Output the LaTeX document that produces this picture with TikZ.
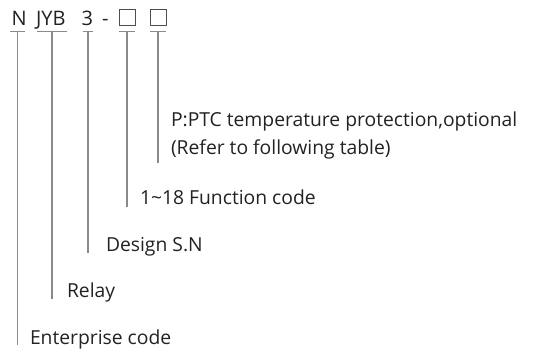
\documentclass[tikz,border=0pt]{standalone}
\usepackage{fontspec}
\setmainfont{Open Sans}
\definecolor{txt}{HTML}{222222}
\definecolor{ln}{HTML}{8A8A8A}
\tikzset{
  lbl/.style={anchor=base west, inner sep=0pt, outer sep=0pt, text=txt, font=\fontsize{19.3}{23}\selectfont},
  top/.style={anchor=base west, inner sep=0pt, outer sep=0pt, text=txt, font=\fontsize{20}{24}\selectfont},
  tick/.style={draw=ln, line width=1.2pt},
  leader/.style={draw=ln, line width=1.2pt},
  codebox/.style={draw=txt!80, line width=0.9pt, minimum width=16pt, minimum height=16pt, inner sep=0pt, anchor=south west}
}
\begin{document}
\begin{tikzpicture}[x=1pt,y=-1pt]
\useasboundingbox (0,0) rectangle (545,352);
% top row
\node[top] (n) at (11.5,25.5) {N};
\node[top] (jyb) at (36,25.5) {JYB};
\node[top] (three) at (81.5,25.5) {3};
\node[top] (dash) at (102,25.5) {-};
\node[codebox] (b1) at (118.5,25.5) {};
\node[codebox] (b2) at (150,25.5) {};
% ticks
\coordinate (tnL) at (10,31.5); \coordinate (tnR) at (25,31.5);
\coordinate (tjL) at (37,31.5); \coordinate (tjR) at (67,31.5);
\coordinate (t3L) at (83,31.5); \coordinate (t3R) at (93,31.5);
\coordinate (tb1L) at (119,31.5); \coordinate (tb1R) at (135,31.5);
\coordinate (tb2L) at (150,31.5); \coordinate (tb2R) at (166,31.5);
\draw[tick] (tnL) -- (tnR);
\draw[tick] (tjL) -- (tjR);
\draw[tick] (t3L) -- (t3R);
\draw[tick] (tb1L) -- (tb1R);
\draw[tick] (tb2L) -- (tb2R);
% leaders
\coordinate (vn0) at (17.5,31.5); \coordinate (vn1) at (17.5,345);
\coordinate (vj0) at (52,31.5); \coordinate (vj1) at (52,299);
\coordinate (v30) at (88,31.5); \coordinate (v31) at (88,253);
\coordinate (vb10) at (127,31.5); \coordinate (vb11) at (127,207);
\coordinate (vb20) at (158,31.5); \coordinate (vb21) at (158,163);
\draw[leader] (vn0) -- (vn1);
\draw[leader] (vj0) -- (vj1);
\draw[leader] (v30) -- (v31);
\draw[leader] (vb10) -- (vb11);
\draw[leader] (vb20) -- (vb21);
% labels
\node[lbl] (ptc1) at (171,126.5) {P:PTC temperature protection,optional};
\node[lbl] (ptc2) at (171,155) {(Refer to following table)};
\node[lbl] (func) at (140,205) {1\textasciitilde18 Function code};
\node[lbl] (design) at (106,251.5) {Design S.N};
\node[lbl] (relay) at (67,297) {Relay};
\node[lbl] (ent) at (30,344) {Enterprise code};
\end{tikzpicture}
\end{document}
